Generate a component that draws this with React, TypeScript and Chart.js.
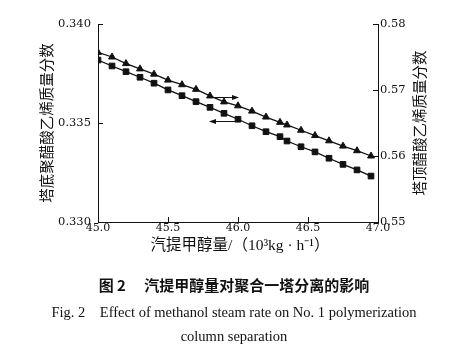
import React, { useEffect, useRef } from "react";
import { Chart, registerables } from "chart.js";

Chart.register(...registerables);

// 汽提甲醇量 (10^3 kg/h)
const xValues = [45.0, 45.1, 45.2, 45.3, 45.4, 45.5, 45.6, 45.7, 45.8, 45.9, 46.0, 46.1, 46.2, 46.3, 46.35, 46.45, 46.55, 46.65, 46.75, 46.85, 46.95];
// 塔底聚醋酸乙烯质量分数 (left axis, squares)
const bottomPVAc = [0.33818, 0.33788, 0.33759, 0.33731, 0.33701, 0.33667, 0.33638, 0.33608, 0.33579, 0.33549, 0.33519, 0.33486, 0.33456, 0.33431, 0.33409, 0.3338, 0.33354, 0.33322, 0.33291, 0.33263, 0.33232];
// 塔顶醋酸乙烯质量分数 (right axis, triangles)
const topVAc = [0.5757, 0.575, 0.574, 0.5732, 0.5724, 0.5715, 0.5708, 0.5701, 0.5691, 0.5682, 0.5676, 0.5668, 0.5659, 0.5651, 0.5647, 0.5639, 0.5631, 0.5623, 0.5615, 0.5608, 0.56];

const xTicks = [45.0, 45.5, 46.0, 46.5, 47.0];
const leftTicks = [0.33, 0.335, 0.34];
const rightTicks = [0.55, 0.56, 0.57, 0.58];

// arrows pointing to the axis each curve belongs to
const arrowRightX = [45.8, 46.0];
const arrowRightY = 0.569;
const arrowLeftX = [46.0, 45.8];
const arrowLeftY = 0.3351;

const leftTitle = "塔底聚醋酸乙烯质量分数";
const rightTitle = "塔顶醋酸乙烯质量分数";
const xTitle = "汽提甲醇量/（10³kg · h⁻¹）";

const INK = "#111";
const TITLE_FONT = '14.5px "Liberation Serif", "Noto Sans CJK SC"';

const decorPlugin = {
  id: "decor",
  afterDraw(chart: any) {
    const { ctx, chartArea, scales } = chart;
    const x = scales.x;
    const yL = scales.yL;
    const yR = scales.yR;
    const T = 5;
    ctx.save();
    ctx.strokeStyle = INK;
    ctx.fillStyle = INK;
    ctx.lineWidth = 1;
    const seg = (x0: number, y0: number, x1: number, y1: number) => {
      ctx.beginPath();
      ctx.moveTo(x0, y0);
      ctx.lineTo(x1, y1);
      ctx.stroke();
    };
    // inward ticks
    xTicks.forEach((v) => {
      const px = Math.round(x.getPixelForValue(v)) + 0.5;
      seg(px, chartArea.bottom, px, chartArea.bottom - T);
    });
    leftTicks.forEach((v) => {
      const py = Math.round(yL.getPixelForValue(v)) + 0.5;
      seg(chartArea.left, py, chartArea.left + T, py);
    });
    rightTicks.forEach((v) => {
      const py = Math.round(yR.getPixelForValue(v)) + 0.5;
      seg(chartArea.right, py, chartArea.right - T, py);
    });
    // arrows
    const arrow = (xs: number[], yv: number, scale: any) => {
      const x0 = x.getPixelForValue(xs[0]);
      const x1 = x.getPixelForValue(xs[1]);
      const py = Math.round(scale.getPixelForValue(yv)) + 0.5;
      seg(x0, py, x1, py);
      const d = x1 > x0 ? 1 : -1;
      ctx.beginPath();
      ctx.moveTo(x1 + d * 1, py);
      ctx.lineTo(x1 - d * 6, py - 2.5);
      ctx.lineTo(x1 - d * 6, py + 2.5);
      ctx.closePath();
      ctx.fill();
    };
    arrow(arrowRightX, arrowRightY, yR);
    arrow(arrowLeftX, arrowLeftY, yL);
    // titles
    const midY = (chartArea.top + chartArea.bottom) / 2;
    ctx.font = TITLE_FONT;
    ctx.textAlign = "center";
    ctx.textBaseline = "middle";
    ctx.save();
    ctx.translate(chartArea.left - 50, midY);
    ctx.rotate(-Math.PI / 2);
    ctx.fillText(leftTitle, 0, 0);
    ctx.restore();
    ctx.save();
    ctx.translate(chartArea.right + 43, midY);
    ctx.rotate(-Math.PI / 2);
    ctx.fillText(rightTitle, 0, 0);
    ctx.restore();
    ctx.font = '15.5px "Liberation Serif", "Noto Sans CJK SC"';
    ctx.fillText(xTitle, (chartArea.left + chartArea.right) / 2 + 2, chartArea.bottom + 24);
    ctx.restore();
  },
};

const tickFont = { family: "DejaVu Serif", size: 11 };

export default function App() {
  const ref = useRef<HTMLCanvasElement | null>(null);
  useEffect(() => {
    if (!ref.current) return;
    const chart = new Chart(ref.current, {
      type: "line",
      data: {
        datasets: [
          {
            label: "塔顶",
            data: xValues.map((v, i) => ({ x: v, y: topVAc[i] })),
            yAxisID: "yR",
            borderColor: INK,
            backgroundColor: INK,
            borderWidth: 1.3,
            pointStyle: "triangle",
            pointRadius: 4,
            pointBorderWidth: 1,
            tension: 0,
          },
          {
            label: "塔底",
            data: xValues.map((v, i) => ({ x: v, y: bottomPVAc[i] })),
            yAxisID: "yL",
            borderColor: INK,
            backgroundColor: INK,
            borderWidth: 1.3,
            pointStyle: "rect",
            pointRadius: 4,
            pointBorderWidth: 1,
            tension: 0,
          },
        ],
      },
      options: {
        animation: false,
        responsive: false,
        devicePixelRatio: 1,
        layout: { padding: { top: 24, left: 0, right: 0, bottom: 0 } },
        plugins: { legend: { display: false }, tooltip: { enabled: false } },
        scales: {
          x: {
            type: "linear",
            position: "bottom",
            min: 45,
            max: 47,
            afterBuildTicks: (s: any) => {
              s.ticks = xTicks.map((v) => ({ value: v }));
            },
            afterFit: (s: any) => {
              s.height = 130;
            },
            grid: { display: true, drawOnChartArea: false, drawTicks: false },
            border: { display: true, color: INK, width: 1 },
            ticks: {
              font: tickFont,
              color: INK,
              padding: 0,
              maxRotation: 0,
              autoSkip: false,
              callback: (v: any) => Number(v).toFixed(1),
            },
          },
          yL: {
            type: "linear",
            position: "left",
            min: 0.33,
            max: 0.34,
            afterBuildTicks: (s: any) => {
              s.ticks = leftTicks.map((v) => ({ value: v }));
            },
            afterFit: (s: any) => {
              s.width = 98;
            },
            grid: { display: true, drawOnChartArea: false, drawTicks: false },
            border: { display: true, color: INK, width: 1 },
            ticks: {
              font: { family: "DejaVu Serif", size: 11.5 },
              color: INK,
              padding: 7,
              callback: (v: any) => Number(v).toFixed(3),
            },
          },
          yR: {
            type: "linear",
            position: "right",
            min: 0.55,
            max: 0.58,
            afterBuildTicks: (s: any) => {
              s.ticks = rightTicks.map((v) => ({ value: v }));
            },
            afterFit: (s: any) => {
              s.width = 78;
            },
            grid: { display: true, drawOnChartArea: false, drawTicks: false },
            border: { display: true, color: INK, width: 1 },
            ticks: {
              font: { family: "DejaVu Serif", size: 11.5 },
              color: INK,
              padding: 2,
              callback: (v: any) => Number(v).toFixed(2),
            },
          },
        },
      },
      plugins: [decorPlugin],
    } as any);
    return () => chart.destroy();
  }, []);

  return (
    <div style={{ position: "fixed", left: 0, top: 0, width: 456, height: 352, background: "#fff", overflow: "hidden" }}>
      <canvas ref={ref} width={456} height={352} style={{ display: "block", width: 456, height: 352 }} />
      <div style={{ position: "absolute", left: 6, width: 456, top: 275, textAlign: "center", fontFamily: '"Noto Sans CJK SC", sans-serif', fontWeight: 700, fontSize: 15, lineHeight: "20px", color: INK, whiteSpace: "pre" }}>
        {"图 2　 汽提甲醇量对聚合一塔分离的影响"}
      </div>
      <div style={{ position: "absolute", left: 6, width: 456, top: 302, textAlign: "center", fontFamily: '"Liberation Serif", serif', fontSize: 14.5, lineHeight: "20px", color: INK, whiteSpace: "pre" }}>
        {"Fig. 2    Effect of methanol steam rate on No. 1 polymerization"}
      </div>
      <div style={{ position: "absolute", left: 6, width: 456, top: 326, textAlign: "center", fontFamily: '"Liberation Serif", serif', fontSize: 14.5, lineHeight: "20px", color: INK, whiteSpace: "pre" }}>
        {"column separation"}
      </div>
    </div>
  );
}
